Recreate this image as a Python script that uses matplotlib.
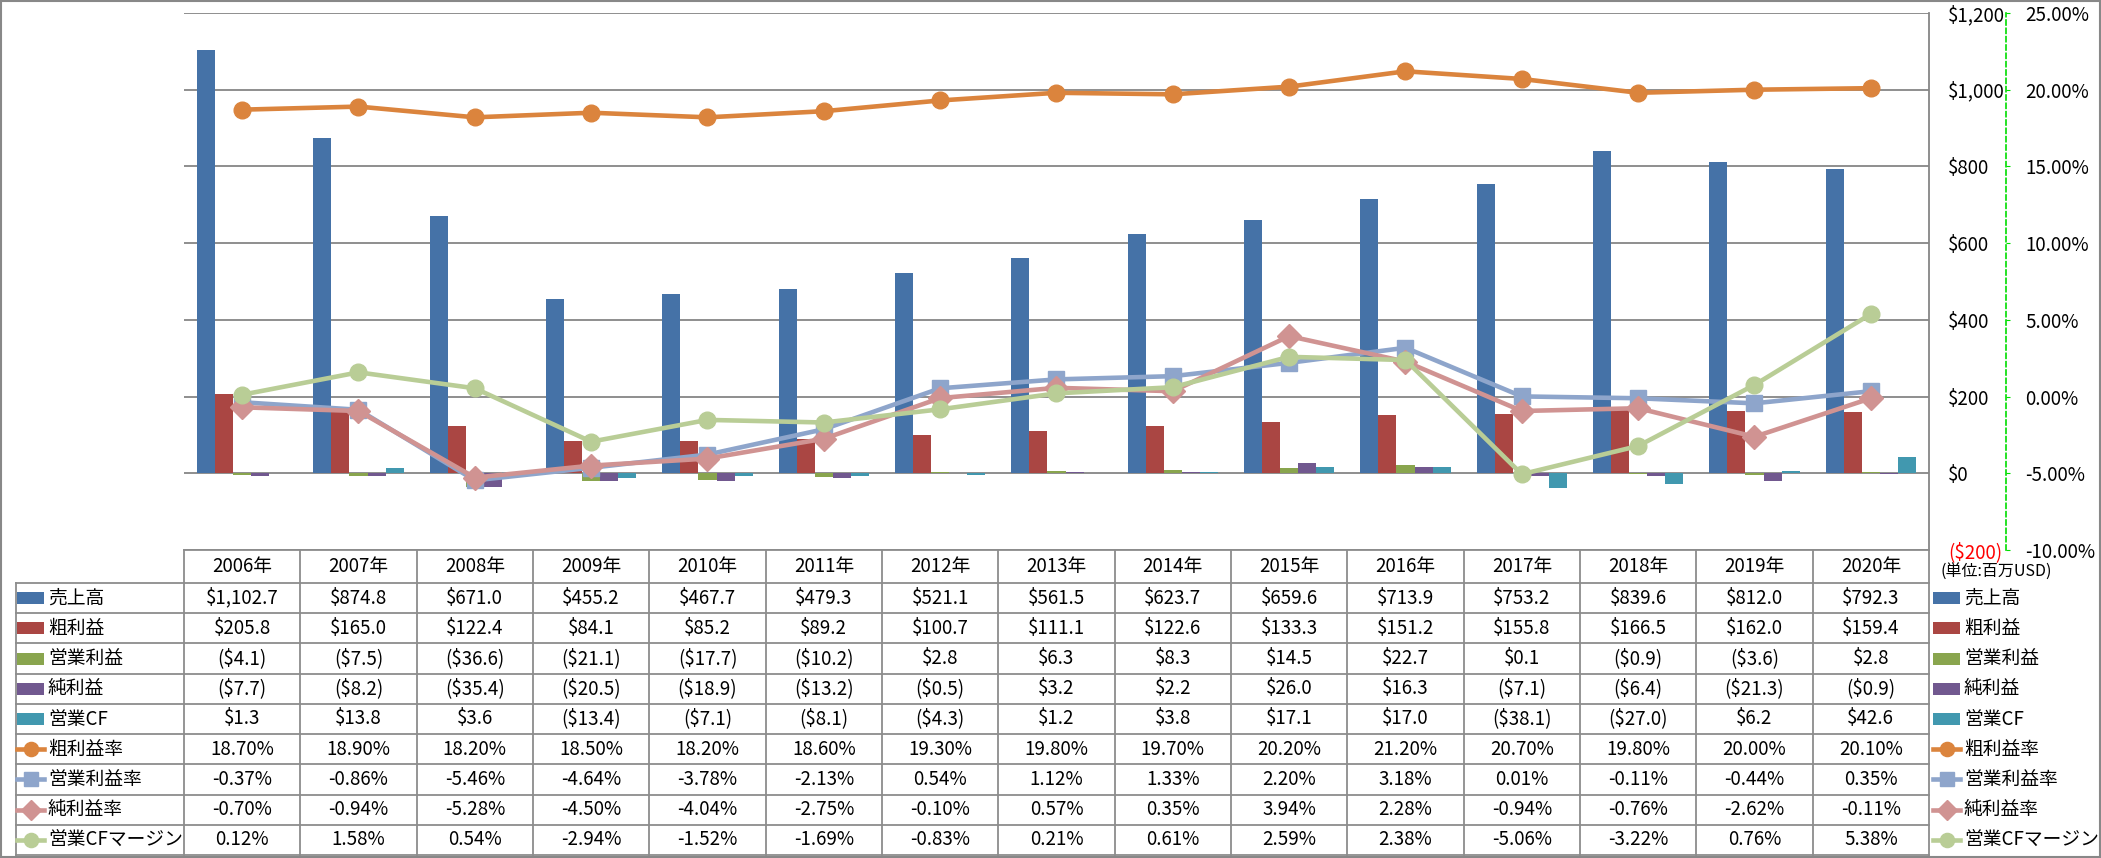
import numpy as np
import matplotlib.pyplot as plt
from matplotlib.lines import Line2D
from matplotlib.patches import Rectangle

plt.rcParams['font.family'] = ['Liberation Sans Narrow', 'Noto Sans CJK JP', 'DejaVu Sans']

years = ['2006年', '2007年', '2008年', '2009年', '2010年', '2011年', '2012年', '2013年',
         '2014年', '2015年', '2016年', '2017年', '2018年', '2019年', '2020年']

sales = [1102.7, 874.8, 671.0, 455.2, 467.7, 479.3, 521.1, 561.5, 623.7, 659.6, 713.9, 753.2, 839.6, 812.0, 792.3]
gross = [205.8, 165.0, 122.4, 84.1, 85.2, 89.2, 100.7, 111.1, 122.6, 133.3, 151.2, 155.8, 166.5, 162.0, 159.4]
op_income = [-4.1, -7.5, -36.6, -21.1, -17.7, -10.2, 2.8, 6.3, 8.3, 14.5, 22.7, 0.1, -0.9, -3.6, 2.8]
net_income = [-7.7, -8.2, -35.4, -20.5, -18.9, -13.2, -0.5, 3.2, 2.2, 26.0, 16.3, -7.1, -6.4, -21.3, -0.9]
op_cf = [1.3, 13.8, 3.6, -13.4, -7.1, -8.1, -4.3, 1.2, 3.8, 17.1, 17.0, -38.1, -27.0, 6.2, 42.6]

gross_margin = [18.70, 18.90, 18.20, 18.50, 18.20, 18.60, 19.30, 19.80, 19.70, 20.20, 21.20, 20.70, 19.80, 20.00, 20.10]
op_margin = [-0.37, -0.86, -5.46, -4.64, -3.78, -2.13, 0.54, 1.12, 1.33, 2.20, 3.18, 0.01, -0.11, -0.44, 0.35]
net_margin = [-0.70, -0.94, -5.28, -4.50, -4.04, -2.75, -0.10, 0.57, 0.35, 3.94, 2.28, -0.94, -0.76, -2.62, -0.11]
cf_margin = [0.12, 1.58, 0.54, -2.94, -1.52, -1.69, -0.83, 0.21, 0.61, 2.59, 2.38, -5.06, -3.22, 0.76, 5.38]

bar_names = ['売上高', '粗利益', '営業利益', '純利益', '営業CF']
bar_data = [sales, gross, op_income, net_income, op_cf]
bar_colors = ['#4572A7', '#AA4643', '#89A54E', '#71588F', '#4198AF']

line_names = ['粗利益率', '営業利益率', '純利益率', '営業CFマージン']
line_data = [gross_margin, op_margin, net_margin, cf_margin]
line_colors = ['#DB843D', '#8EA5CB', '#D09392', '#B9CD96']
line_markers = ['o', 's', 'D', 'o']
line_msize = [12, 11.5, 12, 12]

dollar_ticks = [-200, 0, 200, 400, 600, 800, 1000, 1200]
pct_ticks = [-10, -5, 0, 5, 10, 15, 20, 25]


def fmt_money(v):
    return f'(${-v:,.1f})' if v < 0 else f'${v:,.1f}'


def fmt_money_tick(v):
    return f'(${-v:,.0f})' if v < 0 else f'${v:,.0f}'


W, H = 2101, 858
fig = plt.figure(figsize=(W / 100, H / 100), dpi=100)
fs = 13.5
grid_c = '#868686'
tab_c = '#8C8C8C'

plot_l, plot_r, plot_t, plot_b = 184, 1929, 13, 550
ax = fig.add_axes([plot_l / W, 1 - plot_b / H, (plot_r - plot_l) / W, (plot_b - plot_t) / H])
ax.patch.set_visible(False)
x = np.arange(len(years))
ax.set_xlim(-0.5, len(years) - 0.5)
ax.set_ylim(-200, 1200)

bw = 0.155
for k, (vals, c) in enumerate(zip(bar_data, bar_colors)):
    ax.bar(x + (k - 2) * bw, vals, width=bw, color=c, zorder=2)

ax2 = ax.twinx()
ax2.set_ylim(-10, 25)
for vals, c, m, ms in zip(line_data, line_colors, line_markers, line_msize):
    ax2.plot(x, vals, color=c, lw=3.3, marker=m, markersize=ms, markeredgecolor=c)

# dollar axis: labels on the right, left-aligned
ax.set_axisbelow(True)
ax.yaxis.grid(True, color=grid_c, lw=1.3)
ax.yaxis.tick_right()
ax.set_yticks(dollar_ticks)
ax.set_yticklabels([fmt_money_tick(v) for v in dollar_ticks])
ax.tick_params(axis='y', which='both', left=False, right=True, labelleft=False, labelright=True,
               length=0, pad=13.5, labelsize=fs)
for v, lab in zip(dollar_ticks, ax.get_yticklabels()):
    lab.set_color('red' if v < 0 else 'black')
ax.set_xticks([])
for s in ['left', 'top', 'bottom']:
    ax.spines[s].set_visible(False)
ax.spines['right'].set_color(grid_c)
ax.spines['right'].set_linewidth(1.3)

# percent axis with dashed green spine
ax2.set_yticks(pct_ticks)
ax2.set_yticklabels([f'{v:.2f}%' for v in pct_ticks])
for v, lab in zip(pct_ticks, ax2.get_yticklabels()):
    lab.set_color('red' if v < 0 else 'black')
for s in ['left', 'top', 'bottom']:
    ax2.spines[s].set_visible(False)
ax2.spines['right'].set_position(('axes', (2006 - plot_l) / (plot_r - plot_l)))
ax2.spines['right'].set_color('#00DD00')
ax2.spines['right'].set_linestyle((0, (3, 2)))
ax2.spines['right'].set_linewidth(1.2)
ax2.tick_params(axis='y', length=3, color='#00DD00', pad=11, labelsize=fs)

# data table and legend drawn on an overlay in pixel coordinates
ov = fig.add_axes([0, 0, 1, 1])
ov.set_xlim(0, W)
ov.set_ylim(H, 0)
ov.axis('off')

col_edges = [ax.transData.transform((i - 0.5, 0))[0] for i in range(len(years) + 1)]
header_b = 583
row_h = (855 - header_b) / 9
row_edges = [header_b + row_h * r for r in range(10)]
lab_l = 16

ov.plot([col_edges[0], col_edges[-1]], [plot_b, plot_b], color=tab_c, lw=1.3)
for y in row_edges:
    ov.plot([lab_l, col_edges[-1]], [y, y], color=tab_c, lw=1.3)
for xe in col_edges:
    ov.plot([xe, xe], [plot_b, row_edges[-1]], color=tab_c, lw=1.3)
ov.plot([lab_l, lab_l], [header_b, row_edges[-1]], color=tab_c, lw=1.3)

for i, yr in enumerate(years):
    cx = (col_edges[i] + col_edges[i + 1]) / 2
    ov.text(cx, (plot_b + header_b) / 2, yr, ha='center', va='center', fontsize=fs)

rows = []
for name, vals, c in zip(bar_names, bar_data, bar_colors):
    rows.append((name, [fmt_money(v) for v in vals], ('bar', c, None, None)))
for name, vals, c, m, ms in zip(line_names, line_data, line_colors, line_markers, line_msize):
    rows.append((name, [f'{v:.2f}%' for v in vals], ('line', c, m, ms)))


def draw_key(x0, x1, cy, key):
    kind, c, m, ms = key
    if kind == 'bar':
        ov.add_patch(Rectangle((x0, cy - 6), x1 - x0, 12, color=c, lw=0))
    else:
        ov.add_line(Line2D([x0, x1], [cy, cy], color=c, lw=3.3))
        ov.plot([(x0 + x1) / 2], [cy], marker=m, color=c, markersize=ms * 0.85)


for r, (name, cells, key) in enumerate(rows):
    cy = (row_edges[r] + row_edges[r + 1]) / 2
    draw_key(17, 44, cy, key)
    ov.text(48, cy, name, ha='left', va='center', fontsize=fs)
    for i, t in enumerate(cells):
        cx = (col_edges[i] + col_edges[i + 1]) / 2
        ov.text(cx, cy, t, ha='center', va='center', fontsize=fs)
    draw_key(1933, 1960, cy, key)
    ov.text(1964, cy, name, ha='left', va='center', fontsize=fs)

ov.text(1940, 572, '(単位:百万USD)', ha='left', va='center', fontsize=11.5)

ov.add_patch(Rectangle((1, 1), W - 2, H - 2, fill=False, edgecolor='#888888', lw=1.5))

fig.savefig('out.png', dpi=100)
